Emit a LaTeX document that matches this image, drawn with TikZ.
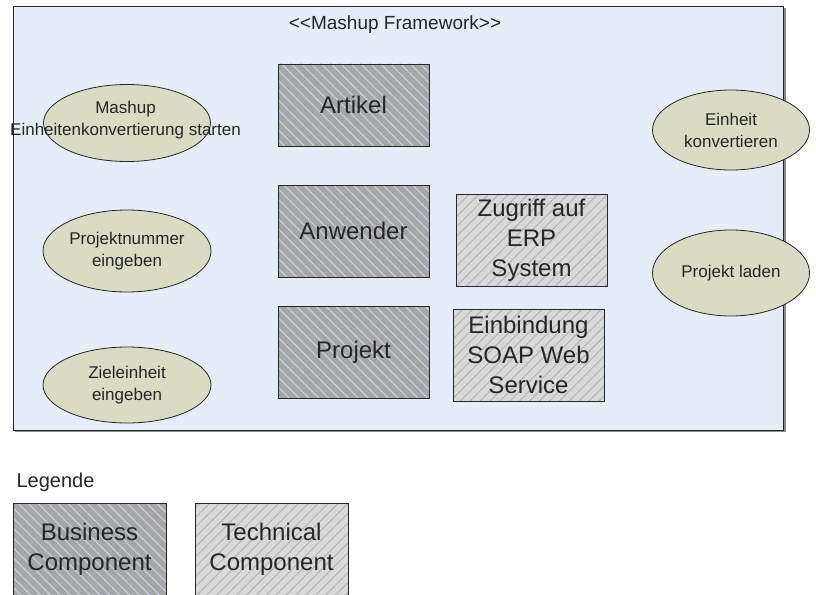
\documentclass[tikz,border=0pt]{standalone}
\usepackage{fontspec}
\setmainfont{Liberation Sans}
\usetikzlibrary{shapes.geometric}
\usetikzlibrary{patterns.meta}
\definecolor{framebg}{HTML}{E6EDF8}
\definecolor{frameshadow}{HTML}{8C8C8C}
\definecolor{casefill}{HTML}{D9DCC3}
\definecolor{bizfill}{HTML}{A6A6A6}
\definecolor{bizline}{HTML}{C6D3E2}
\definecolor{techfill}{HTML}{D9D9D9}
\definecolor{techline}{HTML}{B5B5B5}
\definecolor{inkgray}{HTML}{262626}
\tikzset{
	usecase/.style={ellipse, draw=inkgray, fill=casefill, inner sep=0pt, line width=0.8pt,
		text=inkgray, align=center, font=\fontsize{17}{22}\selectfont},
	caselabel/.style={text=inkgray, align=center, font=\fontsize{17}{22}\selectfont},
	compbox/.style={draw=inkgray, line width=0.9pt, minimum width=151pt, minimum height=92pt,
		inner sep=0pt, text=inkgray, align=center, font=\fontsize{24}{30}\selectfont},
	bizcomp/.style={compbox, preaction={fill=bizfill},
		pattern={Lines[angle=-45,distance=7pt,line width=1.1pt]}, pattern color=bizline},
	techcomp/.style={compbox, preaction={fill=techfill},
		pattern={Lines[angle=45,distance=7pt,line width=1.1pt]}, pattern color=techline},
}
\begin{document}
\begin{tikzpicture}[x=1pt, y=-1pt]
	\clip (0,0) rectangle (816,594);
	% framework frame with shadow
	\fill[frameshadow] (15,8) rectangle (785.5,432);
	\draw[draw=inkgray, fill=framebg, line width=0.9pt] (13,6) rectangle (783.5,430);
	\node[text=inkgray, font=\fontsize{19}{22}\selectfont] (title) at (395,25)
		{<\kern0pt<Mashup Framework>\kern0pt>};

	% use cases
	\node[usecase, minimum width=167pt, minimum height=77pt] (mashup) at (127,123) {};
	\node[caselabel] (mashuptext) at (125.5,120) {Mashup\\Einheitenkonvertierung starten};
	\node[usecase, minimum width=168pt, minimum height=82pt] (projnr) at (127,251) {Projektnummer\\eingeben};
	\node[usecase, minimum width=168pt, minimum height=76pt] (ziel) at (127,385) {Zieleinheit\\eingeben};
	\node[usecase, minimum width=157pt, minimum height=80pt] (konv) at (731,130) {Einheit\\konvertieren};
	\node[usecase, minimum width=157pt, minimum height=86pt] (laden) at (731,273) {Projekt laden};

	% components
	\node[bizcomp, minimum height=82pt] (artikel) at (353.5,105) {Artikel};
	\node[bizcomp] (anwender) at (353.5,231) {Anwender};
	\node[bizcomp] (projekt) at (353.5,352) {Projekt};
	\node[techcomp] (erp) at (531.5,240) {Zugriff auf\\ERP\\System};
	\node[techcomp] (soap) at (528.5,355) {Einbindung\\SOAP Web\\Service};

	% legend
	\node[anchor=west, text=inkgray, font=\fontsize{20}{24}\selectfont] (legende) at (13,482) {Legende};
	\node[bizcomp, minimum width=153pt] (legbiz) at (89.5,549) {Business\\Component};
	\node[techcomp, minimum width=153pt] (legtech) at (271.5,549) {Technical\\Component};
\end{tikzpicture}
\end{document}
